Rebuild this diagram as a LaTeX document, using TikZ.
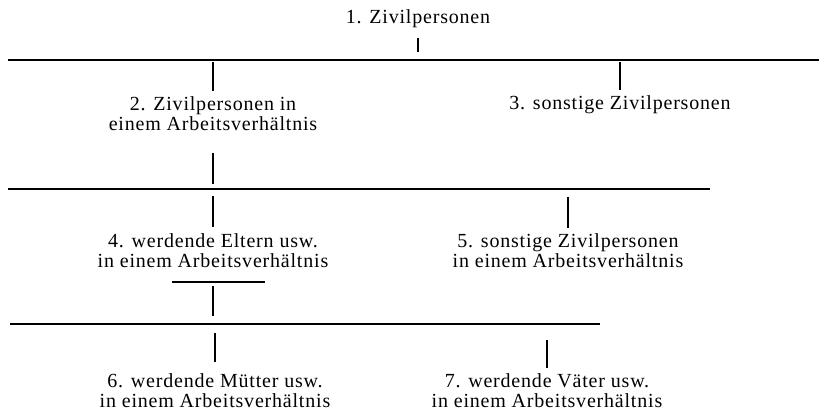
\documentclass[tikz,border=0pt]{standalone}
\usepackage{fontspec}
\setmainfont{Liberation Serif}[LetterSpace=4]
\usetikzlibrary{calc}
\tikzset{
  item/.style={font=\fontsize{15}{15}\selectfont, align=center, inner sep=0pt, anchor=north},
  bar/.style={line width=1.3pt},
  tick/.style={line width=1pt}
}

\begin{document}
\begin{tikzpicture}[x=0.75pt, y=-0.75pt]
\useasboundingbox (0,0) rectangle (819,413);
% the three bars
\coordinate (b1l) at (8,60);
\coordinate (b1r) at (819,60);
\coordinate (b2l) at (8,189);
\coordinate (b2r) at (710,189);
\coordinate (b3l) at (10,324);
\coordinate (b3r) at (600,324);
\draw[bar] (b1l) -- (b1r);
\draw[bar] (b2l) -- (b2r);
\draw[bar] (b3l) -- (b3r);

\node[item, anchor=base] (zivil) at (418,24) {1. Zivilpersonen};
\node[item] (arbeit) at (213,96.3) {2. Zivilpersonen in\\einem Arbeitsverhältnis};
\node[item, anchor=base] (sonstige) at (620,110) {3. sonstige Zivilpersonen};
\node[item] (eltern) at (213,233.3) {4. werdende Eltern usw.\\in einem Arbeitsverhältnis};
\node[item] (sonstarb) at (568,233.3) {5. sonstige Zivilpersonen\\in einem Arbeitsverhältnis};
\node[item] (muetter) at (215,373.3) {6. werdende Mütter usw.\\in einem Arbeitsverhältnis};
\node[item] (vaeter) at (547,373.3) {7. werdende Väter usw.\\in einem Arbeitsverhältnis};

% ticks between items and bars
\draw[tick, shorten <=7.3pt, shorten >=6pt] (zivil.south) -- (zivil.south |- b1l);
\draw[tick, shorten <=1.5pt, shorten >=4pt] (arbeit.north |- b1l) -- (arbeit.north);
\draw[tick, shorten <=1.5pt, shorten >=4.7pt] (sonstige.north |- b1l) -- (sonstige.north);
\draw[tick, shorten <=16.5pt, shorten >=3.75pt] (arbeit.south) -- (arbeit.south |- b2l);
\draw[tick, shorten <=5.25pt, shorten >=4.7pt] (eltern.north |- b2l) -- (eltern.north);
\draw[tick, shorten <=6pt, shorten >=4pt] (sonstarb.north |- b2l) -- (sonstarb.north);
\draw[tick] ($(eltern.south)+(-41,14)$) -- ++(93,0);
\draw[tick, shorten <=13.5pt, shorten >=6pt] (eltern.south) -- (eltern.south |- b3l);
\draw[tick, shorten <=6.75pt, shorten >=8.5pt] (muetter.north |- b3l) -- (muetter.north);
\draw[tick, shorten <=12pt, shorten >=4pt] (vaeter.north |- b3l) -- (vaeter.north);
\end{tikzpicture}
\end{document}
